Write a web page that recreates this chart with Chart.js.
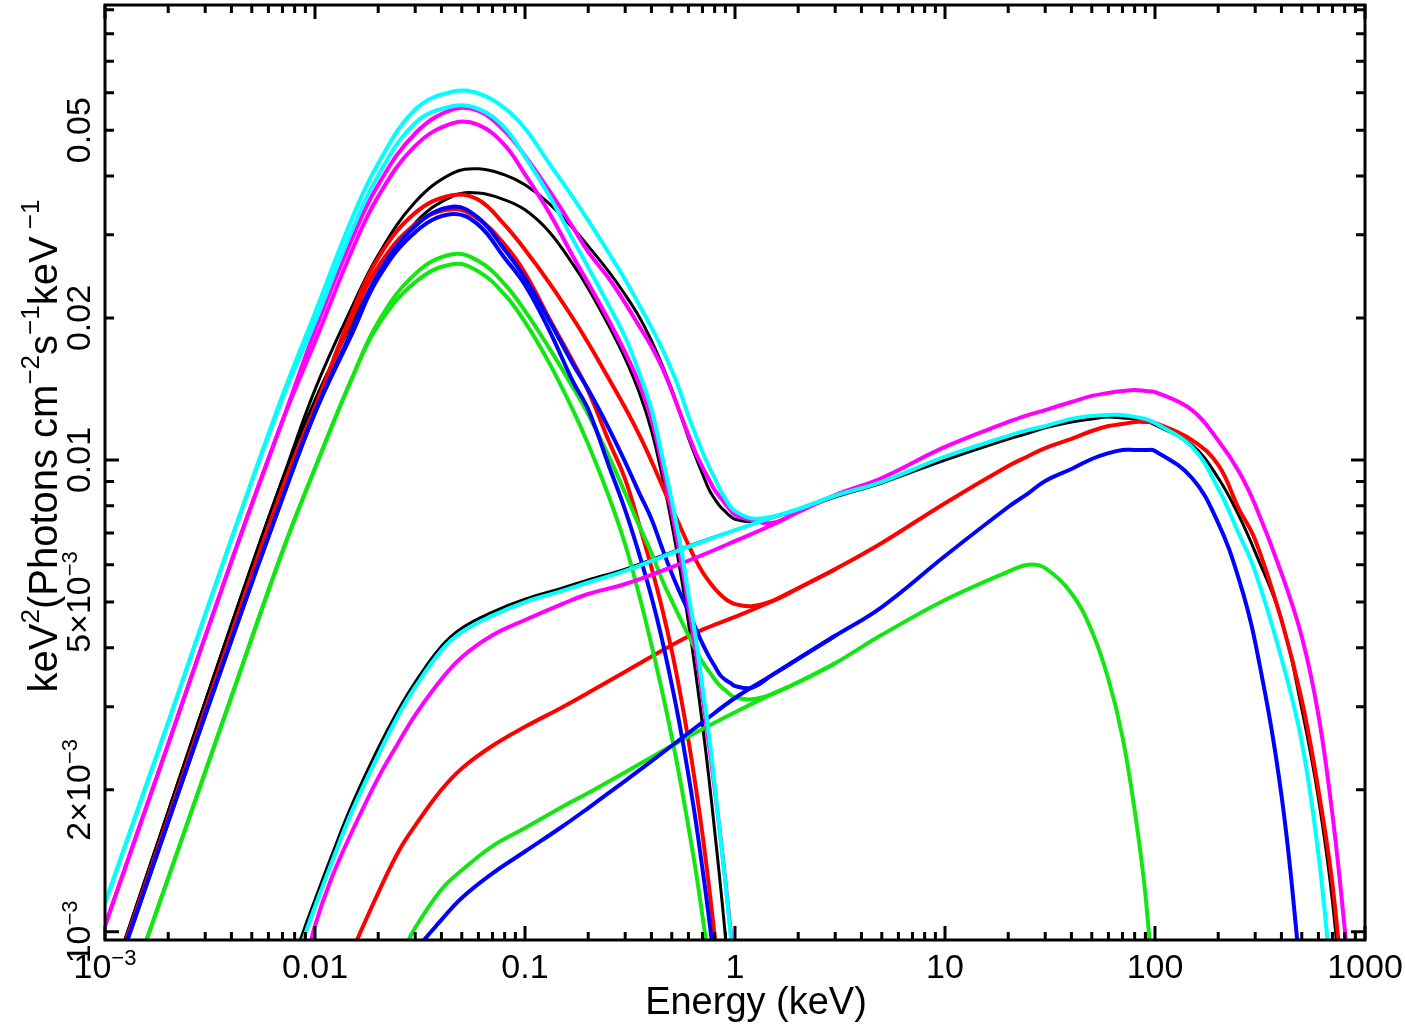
<!DOCTYPE html>
<html>
<head>
<meta charset="utf-8">
<script src="https://cdn.jsdelivr.net/npm/chart.js@4.4.1/dist/chart.umd.min.js"></script>
<style>
  html, body { margin: 0; padding: 0; background: #fff; }
  canvas { display: block; }
</style>
</head>
<body>
<canvas id="spectrum" width="1405" height="1025"></canvas>
<script>
// energy grid (keV) for the disk components and the summed models
const energyModel = [0.001, 0.002, 0.004, 0.007, 0.01, 0.015, 0.02, 0.03, 0.045, 0.06, 0.08, 0.1, 0.13, 0.17, 0.2,
  0.25, 0.3, 0.35, 0.4, 0.45, 0.5, 0.55, 0.6, 0.65, 0.7, 0.75, 0.8, 0.85, 0.9, 0.95, 1.0, 1.2, 1.5, 2, 3];

// energy grid (keV) for the comptonised components
const energyComp = [0.007, 0.008, 0.009, 0.01, 0.012, 0.015, 0.02, 0.025, 0.03, 0.04, 0.05, 0.07, 0.1, 0.15, 0.2,
  0.3, 0.5, 0.7, 1, 1.5, 2, 3, 5, 10, 20, 25, 30, 40, 50, 60, 70, 80, 90, 100, 150, 200, 250, 300, 400, 500,
  600, 700, 800, 900];

// keV^2 (Photons cm^-2 s^-1 keV^-1)
const diskBlack = [0.00072, 0.0018, 0.00448, 0.0091, 0.0134, 0.0195, 0.0247, 0.0318, 0.0362, 0.0368, 0.0356, 0.0339,
  0.0305, 0.0259, 0.0231, 0.0193, 0.0164, 0.0139, 0.01156, 0.00925, 0.00733, 0.00578, 0.00453, 0.00353, 0.00275,
  0.00213, 0.00164, 0.00127, 0.00098, 0.00075, null, null, null, null, null];
const totalBlack = [0.00072, 0.0018, 0.00448, 0.0091, 0.0141, 0.0211, 0.0272, 0.0352, 0.0405, 0.0414, 0.0402, 0.0383,
  0.035, 0.0309, 0.0284, 0.0251, 0.0224, 0.0201, 0.0179, 0.0159, 0.0141, 0.0125, 0.01115, 0.01015, 0.00935, 0.00868,
  0.00827, 0.00797, 0.00777, 0.0076, 0.00749, 0.0074, 0.00756, 0.00784, 0.00835];
const compBlack = [0.00068, 0.00088, 0.00103, 0.00117, 0.00145, 0.00186, 0.00245, 0.00296, 0.00338, 0.00403, 0.0044,
  0.00476, 0.00507, 0.00535, 0.00557, 0.00587, 0.00638, 0.00673, 0.0071, 0.00754, 0.00784, 0.00835, 0.00894, 0.01,
  0.01108, 0.0114, 0.0117, 0.01204, 0.01222, 0.01233, 0.01227, 0.01222, 0.0121, 0.01186, 0.01076, 0.00916, 0.00764,
  0.00638, 0.0046, 0.00297, 0.00192, 0.00116, 0.0006, null];

const diskRed = [0.00071, 0.00174, 0.00428, 0.0087, 0.0129, 0.02, 0.0257, 0.0316, 0.034, 0.0324, 0.0286, 0.0249, 0.02,
  0.0161, 0.014, 0.011, 0.0091, 0.00728, 0.00592, 0.00484, 0.00394, 0.00318, 0.00255, 0.00203, 0.00161, 0.00126,
  0.00098, 0.00076, null, null, null, null, null, null, null];
const totalRed = [0.00071, 0.00174, 0.00428, 0.0087, 0.0129, 0.0205, 0.0268, 0.0334, 0.0364, 0.0356, 0.0315, 0.0279,
  0.0238, 0.0199, 0.0177, 0.0149, 0.0129, 0.0113, 0.00995, 0.00882, 0.00792, 0.0072, 0.00661, 0.00614, 0.00579,
  0.00554, 0.00534, 0.00519, 0.00508, 0.005, 0.00495, 0.0049, 0.00502, 0.00535, 0.00587];
const compRed = [null, null, null, null, null, 0.00091, 0.00121, 0.00148, 0.00168, 0.002, 0.00222, 0.00248, 0.00272,
  0.00299, 0.00321, 0.00356, 0.00405, 0.00437, 0.00465, 0.00502, 0.00535, 0.00587, 0.00667, 0.0081, 0.00971, 0.0102,
  0.0106, 0.01108, 0.01152, 0.0118, 0.01192, 0.01204, 0.01204, 0.01198, 0.01102, 0.00976, 0.0079, 0.00677, 0.00458,
  0.0031, 0.002, 0.00126, 0.00068, null];

const diskGreen = [0.00054, 0.0013, 0.00315, 0.0064, 0.0096, 0.0149, 0.0193, 0.0238, 0.026, 0.0251, 0.0224, 0.0196,
  0.0161, 0.0127, 0.0108, 0.0084, 0.00662, 0.00516, 0.00406, 0.00323, 0.00259, 0.00208, 0.00167, 0.00135, 0.00108,
  0.00087, 0.00069, null, null, null, null, null, null, null, null];
const totalGreen = [0.00054, 0.0013, 0.00315, 0.0064, 0.0096, 0.0149, 0.0196, 0.0248, 0.0273, 0.0264, 0.0236, 0.0207,
  0.0173, 0.0142, 0.0125, 0.0102, 0.0085, 0.00725, 0.00636, 0.00557, 0.00503, 0.0046, 0.00425, 0.00396, 0.00373,
  0.00357, 0.00343, 0.00332, 0.00325, 0.00318, 0.00314, 0.00311, 0.00319, 0.00338, 0.00371];
const compGreen = [null, null, null, null, null, null, null, 0.00087, 0.00102, 0.00123, 0.00135, 0.00152, 0.00166,
  0.00184, 0.00197, 0.00218, 0.00248, 0.00269, 0.00292, 0.00319, 0.00338, 0.00371, 0.00426, 0.00505, 0.0058, 0.006,
  0.0059, 0.00522, 0.00434, 0.00343, 0.00259, 0.00181, 0.0012, 0.00068, null, null, null, null, null, null, null,
  null, null, null];

const diskBlue = [0.0007, 0.00171, 0.00415, 0.0083, 0.0126, 0.0185, 0.0243, 0.0304, 0.0332, 0.0315, 0.0268, 0.0235,
  0.0189, 0.0146, 0.0128, 0.00976, 0.00783, 0.00631, 0.00513, 0.00415, 0.00334, 0.00269, 0.00215, 0.00172, 0.00136,
  0.00108, 0.00085, null, null, null, null, null, null, null, null];
const totalBlue = [0.0007, 0.00171, 0.00415, 0.0083, 0.0126, 0.0188, 0.0248, 0.0313, 0.0344, 0.0326, 0.0279, 0.0243,
  0.0198, 0.0159, 0.0141, 0.0117, 0.0099, 0.00851, 0.0075, 0.0065, 0.00575, 0.0052, 0.00478, 0.0044, 0.00408,
  0.00384, 0.00366, 0.0035, 0.00342, 0.00337, 0.00332, 0.00329, 0.0035, 0.00379, 0.00424];
const compBlue = [null, null, null, null, null, null, null, 0.0008, 0.00091, 0.00106, 0.00118, 0.00133, 0.00148,
  0.00167, 0.00183, 0.00209, 0.00248, 0.00278, 0.00313, 0.0035, 0.00379, 0.00424, 0.00488, 0.00626, 0.00795, 0.00851,
  0.00903, 0.00957, 0.01005, 0.01034, 0.0105, 0.0105, 0.0105, 0.01045, 0.00916, 0.00735, 0.00562, 0.00411, 0.00195,
  0.00077, null, null, null, null];

const diskMagenta = [0.00103, 0.0025, 0.0061, 0.0121, 0.0178, 0.0278, 0.0362, 0.0463, 0.0517, 0.0513, 0.0465, 0.0403,
  0.0335, 0.0269, 0.0237, 0.0198, 0.0169, 0.0145, 0.0122, 0.00975, 0.00776, 0.0062, 0.00493, 0.00394, 0.00316,
  0.00252, 0.00201, 0.00161, 0.00128, 0.00102, 0.00081, null, null, null, null];
const totalMagenta = [0.00103, 0.0025, 0.0061, 0.0121, 0.0188, 0.0294, 0.0383, 0.0492, 0.0553, 0.0549, 0.0498, 0.0441,
  0.0373, 0.031, 0.0276, 0.0243, 0.0215, 0.0192, 0.0174, 0.0157, 0.014, 0.0125, 0.0113, 0.01035, 0.00966, 0.00911,
  0.00864, 0.00834, 0.00807, 0.00784, 0.00765, 0.00746, 0.00735, 0.00776, 0.00843];
const compMagenta = [0.00059, 0.00072, 0.00085, 0.00103, 0.0013, 0.00163, 0.00212, 0.00252, 0.00288, 0.00343, 0.00382,
  0.00425, 0.00458, 0.00495, 0.0052, 0.00546, 0.00593, 0.00629, 0.00673, 0.00728, 0.00776, 0.00843, 0.00916, 0.01066,
  0.01204, 0.01246, 0.01276, 0.01327, 0.01367, 0.01387, 0.014, 0.01407, 0.014, 0.01393, 0.01276, 0.011, 0.00948,
  0.00803, 0.00576, 0.00422, 0.00288, 0.00177, 0.00102, 0.00059];

const diskCyan = [0.00115, 0.00278, 0.0068, 0.0135, 0.0196, 0.0307, 0.0401, 0.0518, 0.0562, 0.0555, 0.0506, 0.0439,
  0.0364, 0.0292, 0.0256, 0.0213, 0.0182, 0.0153, 0.0128, 0.0102, 0.0082, 0.0066, 0.0052, 0.0042, 0.0033, 0.00263,
  0.00205, 0.0016, 0.00127, 0.001, 0.00079, null, null, null, null];
const totalCyan = [0.00115, 0.00278, 0.0068, 0.0137, 0.0205, 0.0325, 0.0425, 0.0553, 0.0603, 0.0598, 0.0557, 0.0504,
  0.0426, 0.0359, 0.0322, 0.0275, 0.0241, 0.0213, 0.0191, 0.0172, 0.0155, 0.0139, 0.0124, 0.0113, 0.0104, 0.0097,
  0.00915, 0.00864, 0.00828, 0.00797, 0.0078, 0.00752, 0.00758, 0.00787, 0.0084];
const compCyan = [0.00065, 0.00084, 0.00099, 0.00113, 0.0014, 0.0018, 0.00237, 0.00288, 0.0033, 0.00395, 0.00432,
  0.00468, 0.005, 0.00528, 0.0055, 0.00582, 0.00635, 0.00671, 0.0071, 0.00756, 0.00787, 0.0084, 0.00899, 0.01016,
  0.01125, 0.01158, 0.0118, 0.01222, 0.0124, 0.01246, 0.01246, 0.01234, 0.01222, 0.01198, 0.01066, 0.0087, 0.007,
  0.0058, 0.0038, 0.00252, 0.00146, 0.00075, null, null];

// axis ticks and labels ("^" switches to / from superscript)
const xTickValues = [0.001, 0.01, 0.1, 1, 10, 100, 1000];
const xTickLabels = ["10^\u22123", "0.01", "0.1", "1", "10", "100", "1000"];
const yTickValues = [0.001, 0.002, 0.005, 0.01, 0.02, 0.05];
const yTickLabels = ["10^\u22123", "2\u00d710^\u22123", "5\u00d710^\u22123", "0.01", "0.02", "0.05"];
const yMajorTicks = [0.001, 0.01];
const xTitle = "Energy (keV)";
const yTitle = "keV^2^(Photons cm^\u22122^s^\u22121^keV^ \u22121";

const FONT = "'Liberation Sans', Arial, Helvetica, sans-serif";

function series(energies, values) {
  return energies.map((e, i) => ({ x: e, y: values[i] })).filter((p) => p.y !== null);
}

const curves = [
  // painted bottom to top
  { e: energyModel, v: diskBlack, c: "#000000", w: 3 },
  { e: energyComp, v: compBlack, c: "#000000", w: 3 },
  { e: energyModel, v: totalBlack, c: "#000000", w: 3 },
  { e: energyModel, v: diskRed, c: "#ff0000", w: 4 },
  { e: energyComp, v: compRed, c: "#ff0000", w: 4 },
  { e: energyModel, v: totalRed, c: "#ff0000", w: 4 },
  { e: energyModel, v: diskGreen, c: "#14e614", w: 4 },
  { e: energyComp, v: compGreen, c: "#14e614", w: 4 },
  { e: energyModel, v: totalGreen, c: "#14e614", w: 4 },
  { e: energyModel, v: diskBlue, c: "#0000ff", w: 4 },
  { e: energyComp, v: compBlue, c: "#0000ff", w: 4 },
  { e: energyModel, v: totalBlue, c: "#0000ff", w: 4 },
  { e: energyModel, v: diskMagenta, c: "#ff00ff", w: 4 },
  { e: energyComp, v: compMagenta, c: "#ff00ff", w: 4 },
  { e: energyModel, v: totalMagenta, c: "#ff00ff", w: 4 },
  { e: energyModel, v: diskCyan, c: "#00ffff", w: 4 },
  { e: energyComp, v: compCyan, c: "#00ffff", w: 4 },
  { e: energyModel, v: totalCyan, c: "#00ffff", w: 4 },
];

const datasets = curves.map((cv, i) => ({
  data: series(cv.e, cv.v),
  borderColor: cv.c,
  borderWidth: cv.w,
  showLine: true,
  pointRadius: 0,
  tension: 0.4,
  borderCapStyle: "round",
  borderJoinStyle: "round",
  clip: 0,
  order: curves.length - i,
}));

// text with superscript pieces; segments alternate normal / superscript
function drawRich(ctx, text, x, y, size, supSize, rise) {
  const parts = text.split("^");
  const widths = parts.map((p, i) => {
    ctx.font = `${i % 2 ? supSize : size}px ${FONT}`;
    return ctx.measureText(p).width;
  });
  const total = widths.reduce((a, b) => a + b, 0);
  let cx = x - total / 2;
  parts.forEach((p, i) => {
    ctx.font = `${i % 2 ? supSize : size}px ${FONT}`;
    ctx.fillText(p, cx, i % 2 ? y - rise : y);
    cx += widths[i];
  });
}

const framePlugin = {
  id: "frame",
  afterDatasetsDraw(chart) {
    const { ctx, chartArea: a } = chart;
    const xs = chart.scales.x;
    const ys = chart.scales.y;
    ctx.save();
    ctx.strokeStyle = "#000";
    ctx.fillStyle = "#000";
    ctx.lineWidth = 3;
    ctx.lineCap = "butt";

    ctx.beginPath();
    for (let d = -3; d <= 3; d++) {
      for (let k = 1; k <= 9; k++) {
        const v = k * Math.pow(10, d);
        if (d === 3 && k > 1) continue;
        const px = xs.getPixelForValue(v);
        const len = k === 1 ? 14 : 8;
        ctx.moveTo(px, a.bottom);
        ctx.lineTo(px, a.bottom - len);
        ctx.moveTo(px, a.top);
        ctx.lineTo(px, a.top + len);
      }
    }
    for (let d = -3; d <= -2; d++) {
      for (let k = 1; k <= 9; k++) {
        const v = k * Math.pow(10, d);
        if (v > ys.max) continue;
        const py = ys.getPixelForValue(v);
        const len = yMajorTicks.includes(v) ? 14 : 9;
        ctx.moveTo(a.left, py);
        ctx.lineTo(a.left + len, py);
        ctx.moveTo(a.right, py);
        ctx.lineTo(a.right - len, py);
      }
    }
    ctx.stroke();
    ctx.strokeRect(a.left, a.top, a.right - a.left, a.bottom - a.top);

    ctx.textBaseline = "alphabetic";
    xTickValues.forEach((v, i) => {
      drawRich(ctx, xTickLabels[i], xs.getPixelForValue(v), 978, 34, 22, 13);
    });
    yTickValues.forEach((v, i) => {
      ctx.save();
      ctx.translate(90, ys.getPixelForValue(v));
      ctx.rotate(-Math.PI / 2);
      drawRich(ctx, yTickLabels[i], 0, 0, 34, 22, 13);
      ctx.restore();
    });

    drawRich(ctx, xTitle, 756, 1014, 38, 25, 14);
    ctx.save();
    ctx.translate(57, 446);
    ctx.rotate(-Math.PI / 2);
    drawRich(ctx, yTitle, 0, 0, 40, 26, 18);
    ctx.restore();
    ctx.restore();
  },
};

new Chart(document.getElementById("spectrum"), {
  type: "scatter",
  data: { datasets },
  options: {
    responsive: false,
    animation: false,
    devicePixelRatio: 1,
    layout: { padding: { left: 105, right: 40, top: 5, bottom: 85 } },
    plugins: { legend: { display: false }, tooltip: { enabled: false } },
    scales: {
      x: { type: "logarithmic", min: 0.001, max: 1000, display: false },
      y: { type: "logarithmic", min: 0.000961, max: 0.0921, display: false },
    },
  },
  plugins: [framePlugin],
});
</script>
</body>
</html>
